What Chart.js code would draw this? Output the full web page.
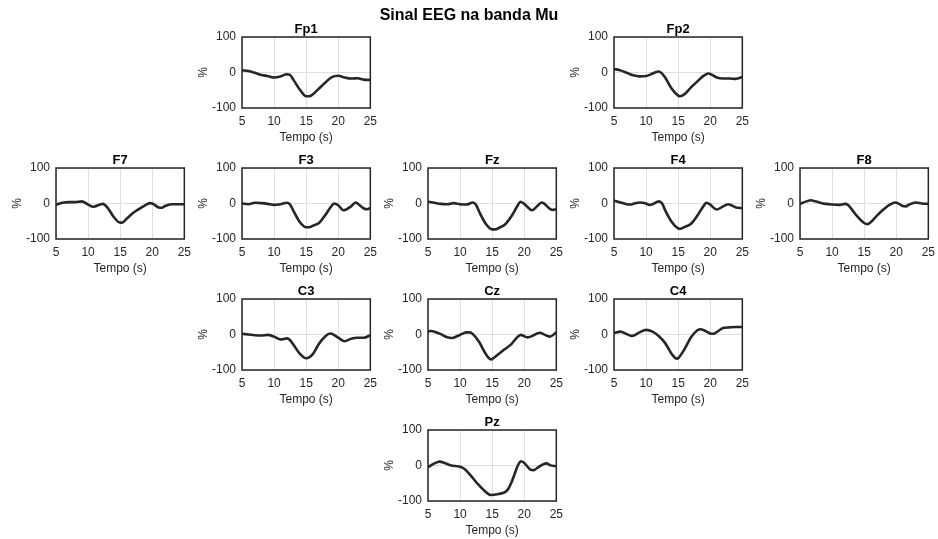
<!DOCTYPE html>
<html><head><meta charset="utf-8">
<script src="https://cdn.jsdelivr.net/npm/chart.js@4.4.1/dist/chart.umd.min.js"></script>
<style>
html,body{margin:0;padding:0;background:#fff;}
body{width:938px;height:539px;position:relative;overflow:hidden;font-family:"Liberation Sans",Arial,sans-serif;}
#title{position:absolute;left:0;width:938px;top:5px;text-align:center;font-weight:bold;font-size:16px;color:#000;line-height:20px;z-index:2;}
canvas{position:absolute;}
</style></head><body>
<div id="title">Sinal EEG na banda Mu</div>
<script>
// Time (s) and relative power (%) for each electrode
const fp1T = [5,6,7,8,9,10,11,12,12.5,13,14,15,15.5,16,17,18,19,20,21,22,23,24,25];
const fp1V = [6,4,-1,-7,-10,-14,-11,-5,-7,-20,-48,-67,-67,-62,-45,-28,-13,-9,-14,-17,-16,-20,-21];

const fp2T = [5,6,7,8,9,10,11,12,12.5,13,14,15,15.3,16,17,18,19,19.7,20,21,22,23,24,25];
const fp2V = [10,6,-1,-8,-11,-10,-3,3,-3,-15,-46,-65,-67,-61,-42,-25,-9,-3,-4,-14,-17,-17,-18,-13];

const f7T = [5,6,7,8,9,10,10.8,12.3,13,14,15,15.3,16,17,18,19,19.7,20,21,21.5,22,23,24,25];
const f7V = [-3,2,4,4,6,-3,-9,-1,-11,-38,-54,-54,-43,-27,-15,-4,1,0,-11,-12,-7,-2,-2,-2];

const f3T = [5,6,7,8,9,10,11,12,12.5,13,14,15,15.5,16,17,18,19,19.4,20,20.8,22,22.7,23,24,24.5,25];
const f3V = [0,-2,2,1,-1,-4,-2,2,-3,-20,-52,-67,-67,-63,-55,-32,-6,0,-5,-19,-8,3,0,-14,-16,-13];

const fzT = [5,6,7,8,9,10,11,12,12.5,13,14,15,15.5,16,17,18,19,19.4,20,21.2,22,22.7,23,24,24.5,25];
const fzV = [5,2,-1,-2,1,-2,-3,3,-4,-24,-57,-73,-73,-69,-59,-36,-5,5,-1,-19,-8,3,1,-15,-18,-16];

const f4T = [5,6,7,7.5,8,9,10,10.5,11,12,12.5,13,14,15,15.3,16,17,18,19,19.4,20,21,22,22.8,24,25];
const f4V = [8,3,-2,-3,-1,3,0,-4,-2,6,0,-20,-52,-70,-71,-66,-57,-34,-6,2,-3,-17,-8,-2,-11,-13];

const f8T = [5,6,6.7,7,8,9,10,11,12,12.5,13,14,15,15.5,16,17,18,19,19.9,21,21.5,22,23,24,25];
const f8V = [-1,6,9,8,3,-1,-3,-4,-1,-4,-15,-38,-55,-58,-53,-34,-17,-3,3,-7,-8,-3,3,0,-1];

const c3T = [5,6,7,8,9,10,11,12,12.5,13,14,15,16,17,18,18.7,19,20,21,22,23,24,25];
const c3V = [2,0,-2,-3,-1,-6,-14,-11,-16,-28,-54,-67,-56,-26,-5,3,2,-9,-19,-12,-9,-9,-2];

const czT = [5,5.5,6,7,8,8.7,9,10,11,11.5,12,13,14,14.8,15,16,17,18,19,19.5,20,20.5,21,22,22.5,23,24,25];
const czV = [8,10,8,1,-8,-10,-9,-1,6,6,1,-22,-55,-70,-69,-55,-41,-27,-6,-1,-5,-8,-6,3,5,1,-6,6];

const c4T = [5,6,7,7.8,9,10,11,12,13,14,14.8,15,16,17,18,18.5,19,20,20.5,21,22,23,24,25];
const c4V = [4,8,1,-4,6,13,8,-5,-25,-55,-68,-67,-41,-8,12,15,12,3,2,7,18,20,21,21];

const pzT = [5,6,6.8,7.5,8.6,9.9,10.7,11.7,12.75,13.8,14.8,16,17,17.5,18,18.5,19,19.5,20,21,21.5,22,23,23.5,24,25];
const pzV = [-5,6,11,8,0,-3,-10,-29,-52,-71,-83,-80,-75,-66,-48,-24,0,12,7,-12,-13,-7,4,6,1,-2];

// Axis ticks shared by every panel
const xTicks = [5, 10, 15, 20, 25];
const yTicks = [-100, 0, 100];

// Panels: label, series, grid slot [column, row]
const panels = [
  { name: 'Fp1', t: fp1T, v: fp1V, slot: [1, 0] },
  { name: 'Fp2', t: fp2T, v: fp2V, slot: [3, 0] },
  { name: 'F7',  t: f7T,  v: f7V,  slot: [0, 1] },
  { name: 'F3',  t: f3T,  v: f3V,  slot: [1, 1] },
  { name: 'Fz',  t: fzT,  v: fzV,  slot: [2, 1] },
  { name: 'F4',  t: f4T,  v: f4V,  slot: [3, 1] },
  { name: 'F8',  t: f8T,  v: f8V,  slot: [4, 1] },
  { name: 'C3',  t: c3T,  v: c3V,  slot: [1, 2] },
  { name: 'Cz',  t: czT,  v: czV,  slot: [2, 2] },
  { name: 'C4',  t: c4T,  v: c4V,  slot: [3, 2] },
  { name: 'Pz',  t: pzT,  v: pzV,  slot: [2, 3] }
];

// Geometry of the panel grid
const COL_LEFT = [56, 242, 428, 614, 800];
const ROW_TOP = [37, 168, 299, 430];
const BOX_W = 129, BOX_H = 71;
const Y_AXIS_W = 46, TOP_PAD = 20, X_AXIS_H = 37, RIGHT_PAD = 12;

const FONT = '"Liberation Sans", Arial, Helvetica, sans-serif';
const INK = '#262626';

// Panel frame and panel title
const framePlugin = {
  id: 'frame',
  afterDraw(chart, args, opts) {
    const { ctx, chartArea: a } = chart;
    ctx.save();
    ctx.strokeStyle = INK;
    ctx.lineWidth = 1.5;
    ctx.strokeRect(a.left, a.top, a.right - a.left, a.bottom - a.top);
    ctx.fillStyle = '#000';
    ctx.font = 'bold 13px ' + FONT;
    ctx.textAlign = 'center';
    ctx.textBaseline = 'middle';
    ctx.fillText(opts.text, (a.left + a.right) / 2, a.top - 7.5);
    ctx.restore();
  }
};

panels.forEach(p => {
  const cv = document.createElement('canvas');
  const w = Y_AXIS_W + BOX_W + RIGHT_PAD;
  const h = TOP_PAD + BOX_H + X_AXIS_H;
  cv.width = w; cv.height = h;
  cv.style.width = w + 'px'; cv.style.height = h + 'px';
  cv.style.left = (COL_LEFT[p.slot[0]] - Y_AXIS_W) + 'px';
  cv.style.top = (ROW_TOP[p.slot[1]] - TOP_PAD) + 'px';
  document.body.appendChild(cv);

  new Chart(cv, {
    type: 'line',
    data: {
      datasets: [{
        data: p.t.map((x, i) => ({ x, y: p.v[i] })),
        borderColor: INK,
        borderWidth: 2.6,
        pointRadius: 0,
        cubicInterpolationMode: 'monotone',
        fill: false
      }]
    },
    options: {
      responsive: false,
      animation: false,
      devicePixelRatio: 1,
      layout: { autoPadding: false, padding: { top: TOP_PAD, right: RIGHT_PAD, left: 0, bottom: 0 } },
      plugins: { legend: { display: false }, tooltip: { enabled: false }, frame: { text: p.name } },
      scales: {
        x: {
          type: 'linear', min: 5, max: 25,
          afterBuildTicks: s => { s.ticks = xTicks.map(value => ({ value })); },
          afterFit: s => { s.height = X_AXIS_H; },
          grid: { color: '#dedede', lineWidth: 1, drawTicks: false },
          border: { display: false },
          ticks: { color: INK, font: { family: FONT, size: 12 }, padding: 6, maxRotation: 0, autoSkip: false },
          title: { display: true, text: 'Tempo (s)', color: INK, font: { family: FONT, size: 12 }, padding: { top: 0, bottom: 0 } }
        },
        y: {
          type: 'linear', min: -100, max: 100,
          afterBuildTicks: s => { s.ticks = yTicks.map(value => ({ value })); },
          afterFit: s => { s.width = Y_AXIS_W; },
          grid: { color: '#dedede', lineWidth: 1, drawTicks: false },
          border: { display: false },
          ticks: { color: INK, font: { family: FONT, size: 12 }, padding: 6, autoSkip: false },
          title: { display: true, text: '%', color: INK, font: { family: FONT, size: 12 }, padding: { top: 0, bottom: 0 } }
        }
      }
    },
    plugins: [framePlugin]
  });
});
</script>
</body></html>
